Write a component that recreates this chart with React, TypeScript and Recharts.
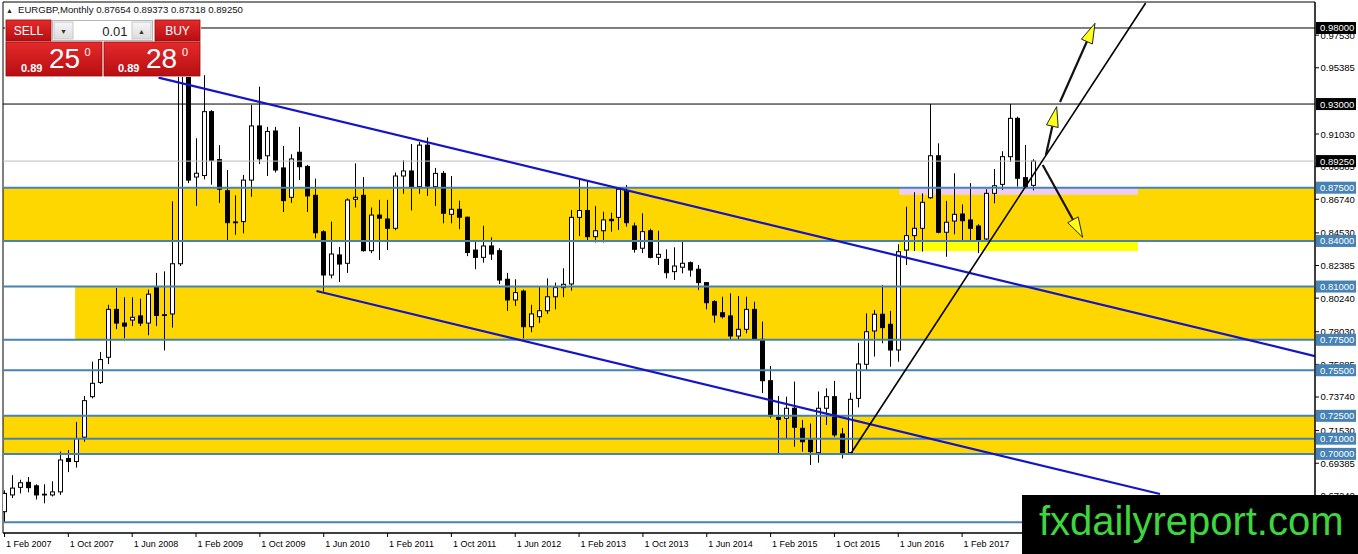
import React from 'react';
import { ComposedChart, Bar, XAxis, YAxis, ReferenceLine, ReferenceArea } from 'recharts';

const FONT = '"Liberation Sans", Arial, sans-serif';

// EURGBP monthly candles, Feb 2007 .. Nov 2017 (index 0 = Feb 2007)
const opens = [
  0.662, 0.673, 0.678, 0.6813, 0.679, 0.6735, 0.673, 0.675, 0.697, 0.695,
  0.711, 0.7376, 0.747, 0.7635, 0.795, 0.786, 0.788, 0.7907, 0.786, 0.81,
  0.791, 0.792, 0.825, 0.953, 0.882, 0.883, 0.925, 0.8935, 0.873, 0.852,
  0.8527, 0.88, 0.9156, 0.896, 0.9123, 0.888, 0.8687, 0.8983, 0.889, 0.87,
  0.846, 0.8176, 0.8308, 0.8253, 0.8674, 0.87, 0.8336, 0.857, 0.8544, 0.8483,
  0.8827, 0.886, 0.8757, 0.903, 0.8757, 0.8844, 0.8575, 0.8608, 0.8556, 0.834,
  0.8292, 0.8367, 0.8336, 0.8148, 0.8012, 0.807, 0.7836, 0.7902, 0.7941, 0.8033,
  0.8093, 0.8117, 0.8555, 0.86, 0.8428, 0.8467, 0.8542, 0.8555, 0.8731, 0.8498,
  0.8352, 0.8467, 0.8292, 0.8279, 0.8198, 0.8227, 0.8257, 0.8214, 0.8126, 0.8001,
  0.7928, 0.7907, 0.7775, 0.7819, 0.795, 0.7753, 0.7481, 0.724, 0.7234, 0.73,
  0.7168, 0.7091, 0.7008, 0.73, 0.7376, 0.7131, 0.7008, 0.7365, 0.7589, 0.7808,
  0.7918, 0.7852, 0.7683, 0.834, 0.8435, 0.8483, 0.8684, 0.896, 0.8457, 0.8531,
  0.8577, 0.8538, 0.8498, 0.8413, 0.8713, 0.8772, 0.8954, 0.9206, 0.8816, 0.87654,
];
const highs = [
  0.676, 0.686, 0.683, 0.6848, 0.68, 0.68, 0.682, 0.7015, 0.7025, 0.721,
  0.738, 0.7606, 0.767, 0.798, 0.809, 0.803, 0.803, 0.802, 0.808, 0.819,
  0.82, 0.866, 0.98, 0.955, 0.9075, 0.949, 0.926, 0.903, 0.8866, 0.87,
  0.8834, 0.9294, 0.9414, 0.915, 0.915, 0.9024, 0.897, 0.915, 0.89, 0.881,
  0.847, 0.8527, 0.836, 0.868, 0.891, 0.882, 0.862, 0.867, 0.867, 0.885,
  0.893, 0.9037, 0.905, 0.908, 0.888, 0.886, 0.8827, 0.8665, 0.856, 0.8395,
  0.85, 0.8424, 0.8352, 0.819, 0.8148, 0.808, 0.798, 0.81, 0.8154, 0.8126,
  0.822, 0.8603, 0.8805, 0.8796, 0.863, 0.8592, 0.8586, 0.8753, 0.8768, 0.852,
  0.8582, 0.848, 0.8467, 0.8345, 0.8358, 0.8395, 0.8265, 0.8242, 0.813, 0.801,
  0.8033, 0.8056, 0.8038, 0.8033, 0.8, 0.787, 0.7578, 0.7381, 0.7376, 0.7475,
  0.7223, 0.72, 0.741, 0.7431, 0.748, 0.717, 0.7402, 0.773, 0.7924, 0.7946,
  0.811, 0.794, 0.8378, 0.8625, 0.872, 0.8713, 0.93, 0.9042, 0.8663, 0.8845,
  0.864, 0.878, 0.851, 0.874, 0.8873, 0.899, 0.93, 0.9217, 0.9031, 0.89373,
];
const lows = [
  0.655, 0.671, 0.674, 0.6747, 0.67, 0.6675, 0.672, 0.673, 0.688, 0.691,
  0.708, 0.7365, 0.746, 0.759, 0.782, 0.776, 0.784, 0.784, 0.778, 0.784,
  0.768, 0.783, 0.8235, 0.878, 0.863, 0.8805, 0.877, 0.865, 0.8406, 0.844,
  0.845, 0.869, 0.8906, 0.8827, 0.885, 0.859, 0.865, 0.88, 0.859, 0.8417,
  0.8067, 0.8154, 0.813, 0.819, 0.862, 0.833, 0.832, 0.8275, 0.834, 0.847,
  0.871, 0.86, 0.871, 0.8696, 0.863, 0.8516, 0.8516, 0.8477, 0.83, 0.8214,
  0.8257, 0.8275, 0.8117, 0.794, 0.7972, 0.776, 0.78, 0.786, 0.792, 0.795,
  0.803, 0.8073, 0.8432, 0.8406, 0.839, 0.839, 0.8461, 0.8472, 0.8494, 0.8323,
  0.832, 0.8285, 0.8242, 0.8154, 0.8143, 0.8187, 0.8165, 0.8077, 0.795, 0.7863,
  0.789, 0.7753, 0.7753, 0.7793, 0.7749, 0.74, 0.7234, 0.7004, 0.7102, 0.7047,
  0.7015, 0.6927, 0.6942, 0.719, 0.711, 0.697, 0.7, 0.7306, 0.755, 0.764,
  0.7727, 0.7573, 0.7606, 0.8242, 0.8334, 0.833, 0.8676, 0.845, 0.8296, 0.8444,
  0.8406, 0.8406, 0.832, 0.84, 0.8647, 0.8735, 0.892, 0.8757, 0.875, 0.87318,
];
const closes = [
  0.674, 0.6775, 0.681, 0.6778, 0.673, 0.673, 0.675, 0.696, 0.695, 0.71,
  0.735, 0.7464, 0.762, 0.795, 0.786, 0.784, 0.7898, 0.786, 0.805, 0.791,
  0.7915, 0.825, 0.953, 0.88, 0.8845, 0.925, 0.893, 0.874, 0.852, 0.8525,
  0.88, 0.9156, 0.894, 0.912, 0.8866, 0.8665, 0.8939, 0.8888, 0.8696, 0.8454,
  0.8176, 0.8314, 0.8248, 0.8669, 0.8687, 0.8336, 0.857, 0.855, 0.8483, 0.8827,
  0.886, 0.8757, 0.903, 0.876, 0.8844, 0.8582, 0.8608, 0.8556, 0.8324, 0.8292,
  0.8367, 0.8314, 0.8143, 0.8012, 0.806, 0.7836, 0.792, 0.7941, 0.8033, 0.8093,
  0.8115, 0.8555, 0.86, 0.8428, 0.8467, 0.8538, 0.8533, 0.874, 0.852, 0.8345,
  0.8461, 0.8292, 0.8312, 0.8191, 0.8235, 0.8253, 0.8209, 0.8126, 0.7994, 0.7913,
  0.7902, 0.7775, 0.7819, 0.795, 0.7753, 0.7481, 0.7249, 0.7227, 0.73, 0.7175,
  0.708, 0.7015, 0.73, 0.7376, 0.7125, 0.7008, 0.7359, 0.7591, 0.7803, 0.7918,
  0.783, 0.7683, 0.8329, 0.8435, 0.8483, 0.8654, 0.896, 0.8457, 0.8523, 0.8575,
  0.8533, 0.8483, 0.8406, 0.8713, 0.8763, 0.8954, 0.9206, 0.8812, 0.8757, 0.8925,
];

const xTickIdx = [0, 8, 16, 24, 32, 40, 48, 56, 64, 72, 80, 88, 96, 104, 112, 120];
const xTickLabels = [
  '1 Feb 2007', '1 Oct 2007', '1 Jun 2008', '1 Feb 2009', '1 Oct 2009', '1 Jun 2010',
  '1 Feb 2011', '1 Oct 2011', '1 Jun 2012', '1 Feb 2013', '1 Oct 2013', '1 Jun 2014',
  '1 Feb 2015', '1 Oct 2015', '1 Jun 2016', '1 Feb 2017',
];

const priceTicks = [
  0.9753, 0.95385, 0.9103, 0.88885, 0.8674, 0.8453, 0.82385, 0.8024,
  0.7803, 0.75885, 0.7374, 0.7153, 0.69385, 0.6724,
];
const blackLevels = [0.98, 0.93];
const bidLevel = 0.8925;
const blueLevels = [0.875, 0.84, 0.81, 0.775, 0.755, 0.725, 0.71, 0.7];
const extraBlueLevels = [0.655];

const symbol = 'EURGBP';
const timeframe = 'Monthly';
const sellPrice = ['0.89', '25', '0'];
const buyPrice = ['0.89', '28', '0'];
const lotSize = '0.01';
const watermark = 'fxdailyreport.com';

const X_MIN = -0.188;
const X_MAX = 164.22;
const Y_MIN = 0.64798;
const Y_MAX = 0.99709;

const goldZones = [
  { x1: X_MIN, x2: X_MAX, y1: 0.84, y2: 0.875 },
  { x1: 8.85, x2: X_MAX, y1: 0.775, y2: 0.81 },
  { x1: X_MIN, x2: X_MAX, y1: 0.7, y2: 0.725 },
];
const lavenderZone = { x1: 112.13, x2: 142.04, y1: 0.8703, y2: 0.875 };
const yellowZone = { x1: 112.13, x2: 142.04, y1: 0.8334, y2: 0.84 };

const channelLines = [
  [{ x: 19.3, y: 0.9474 }, { x: 164.22, y: 0.7643 }],
  [{ x: 39.1, y: 0.8071 }, { x: 144.8, y: 0.6736 }],
];
const trendLine = [{ x: 106.1, y: 0.7006 }, { x: 143.0, y: 0.9964 }];
const arrows = [
  [{ x: 130.5, y: 0.8965 }, { x: 131.85, y: 0.9283 }],
  [{ x: 132.27, y: 0.9313 }, { x: 136.65, y: 0.9831 }],
  [{ x: 130.1, y: 0.8899 }, { x: 135.1, y: 0.8424 }],
];

const data = opens.map((o, i) => ({
  i,
  o,
  h: highs[i],
  l: lows[i],
  c: closes[i],
  range: [lows[i], highs[i]],
}));

const Candle = (props: any) => {
  const { x, y, width, height, payload } = props;
  if (x == null || y == null || !payload) return null;
  const { o, h, l, c } = payload;
  const top0 = Math.min(y, y + height);
  const hgt = Math.abs(height);
  const ppu = h - l > 0 ? hgt / (h - l) : 0;
  const cx = Math.round(x + width / 2) + 0.5;
  const bTop = top0 + (h - Math.max(o, c)) * ppu;
  const bBot = top0 + (h - Math.min(o, c)) * ppu;
  const bull = c >= o;
  return (
    <g>
      <line x1={cx} x2={cx} y1={top0} y2={top0 + hgt} stroke="#000" strokeWidth={1} />
      <rect
        x={cx - 2}
        y={bTop}
        width={4}
        height={Math.max(bBot - bTop, 0.8)}
        fill={bull ? '#fff' : '#000'}
        stroke="#000"
        strokeWidth={1}
      />
    </g>
  );
};

const ArrowShape = (p: any) => {
  const { x1, y1, x2, y2 } = p;
  if ([x1, y1, x2, y2].some((v) => v == null || Number.isNaN(v))) return null;
  const dx = x2 - x1;
  const dy = y2 - y1;
  const len = Math.hypot(dx, dy) || 1;
  const ux = dx / len;
  const uy = dy / len;
  const hl = 20;
  const hw = 6;
  const bx = x2 - ux * hl;
  const by = y2 - uy * hl;
  const px = -uy;
  const py = ux;
  const pts = `${x2},${y2} ${bx + px * hw},${by + py * hw} ${bx - px * hw},${by - py * hw}`;
  return (
    <g>
      <line x1={x1} y1={y1} x2={bx} y2={by} stroke="#111" strokeWidth={2.2} />
      <polygon points={pts} fill="#FFFF1A" stroke="#222" strokeWidth={1} />
    </g>
  );
};

const YTick = (p: any) => {
  const { x, y, payload } = p;
  const v = payload.value;
  const label = Number(v).toFixed(5);
  const isBlack = blackLevels.includes(v) || v === bidLevel;
  const isBlue = blueLevels.includes(v);
  if (isBlack || isBlue) {
    return (
      <g>
        <rect x={x + 1} y={y - 6} width={40} height={12} fill={isBlack ? '#000' : '#4682B4'} />
        <text x={x + 5} y={y + 3.5} fill="#fff" fontSize={9.5} fontFamily={FONT}>
          {label}
        </text>
      </g>
    );
  }
  return (
    <g>
      <line x1={x} x2={x + 4} y1={y} y2={y} stroke="#000" />
      <text x={x + 5.5} y={y + 3.5} fill="#000" fontSize={9.5} fontFamily={FONT}>
        {label}
      </text>
    </g>
  );
};

const XTick = (p: any) => {
  const { x, y, payload } = p;
  const k = xTickIdx.indexOf(payload.value);
  return (
    <g>
      <line x1={x} x2={x} y1={y} y2={y + 4} stroke="#000" />
      <text x={x + 1.5} y={y + 13.5} fill="#000" fontSize={9} fontFamily={FONT}>
        {k >= 0 ? xTickLabels[k] : ''}
      </text>
    </g>
  );
};

const last = data[data.length - 1];

const Overlay = () => (
  <svg
    width={1358}
    height={554}
    style={{ position: 'absolute', left: 0, top: 0, pointerEvents: 'none' }}
  >
    <defs>
      <linearGradient id="redg" x1="0" y1="0" x2="0" y2="1">
        <stop offset="0" stopColor="#E42A2A" />
        <stop offset="1" stopColor="#B70E12" />
      </linearGradient>
      <linearGradient id="grayg" x1="0" y1="0" x2="0" y2="1">
        <stop offset="0" stopColor="#F6F6F6" />
        <stop offset="1" stopColor="#DCDCDC" />
      </linearGradient>
    </defs>
    {/* header */}
    <text x={6} y={13} fontSize={7} fontFamily={FONT} fill="#222">▲</text>
    <text x={18} y={13} fontSize={9.6} fontFamily={FONT} fill="#111">
      {`${symbol},${timeframe}  ${last.o.toFixed(5)} ${last.h.toFixed(5)} ${last.l.toFixed(5)} ${last.c.toFixed(5)}`}
    </text>
    {/* one click trading panel */}
    <rect x={5} y={19} width={196} height={58} fill="#fff" />
    <rect x={6} y={20} width={45} height={21} fill="url(#redg)" stroke="#9B0A0A" strokeWidth={0.8} />
    <text x={28.5} y={35} textAnchor="middle" fontSize={12} fontFamily={FONT} fill="#fff">SELL</text>
    <rect x={52.5} y={20.5} width={100} height={20} fill="#fff" stroke="#B8B8B8" />
    <rect x={54} y={22} width={19} height={17} fill="url(#grayg)" stroke="#C8C8C8" />
    <text x={63.5} y={33.5} textAnchor="middle" fontSize={7} fontFamily={FONT} fill="#333">▼</text>
    <text x={127.5} y={35.5} textAnchor="end" fontSize={13} fontFamily={FONT} fill="#222">{lotSize}</text>
    <rect x={132} y={22} width={19} height={17} fill="url(#grayg)" stroke="#C8C8C8" />
    <text x={141.5} y={33.5} textAnchor="middle" fontSize={7} fontFamily={FONT} fill="#333">▲</text>
    <rect x={155} y={20} width={45} height={21} fill="url(#redg)" stroke="#9B0A0A" strokeWidth={0.8} />
    <text x={177.5} y={35} textAnchor="middle" fontSize={12} fontFamily={FONT} fill="#fff">BUY</text>
    <rect x={6} y={42} width={96} height={34} fill="url(#redg)" stroke="#9B0A0A" strokeWidth={0.8} />
    <text x={21} y={72} fontSize={11} fontWeight="bold" fontFamily={FONT} fill="#fff">{sellPrice[0]}</text>
    <text x={49} y={67.5} fontSize={28} fontFamily={FONT} fill="#fff">{sellPrice[1]}</text>
    <text x={84.5} y={56} fontSize={11} fontFamily={FONT} fill="#fff">{sellPrice[2]}</text>
    <rect x={104} y={42} width={96} height={34} fill="url(#redg)" stroke="#9B0A0A" strokeWidth={0.8} />
    <text x={118} y={72} fontSize={11} fontWeight="bold" fontFamily={FONT} fill="#fff">{buyPrice[0]}</text>
    <text x={146} y={67.5} fontSize={28} fontFamily={FONT} fill="#fff">{buyPrice[1]}</text>
    <text x={182} y={56} fontSize={11} fontFamily={FONT} fill="#fff">{buyPrice[2]}</text>
    {/* watermark */}
    <rect x={1022} y={495} width={336} height={59} fill="#000" />
    <text x={1039} y={535} fontSize={40} fontFamily={FONT} fill="#3ED63E">{watermark}</text>
  </svg>
);

export default function App() {
  return (
    <div
      style={{
        position: 'absolute',
        left: 0,
        top: 0,
        width: 1358,
        height: 554,
        background: '#fff',
        overflow: 'hidden',
      }}
    >
      <ComposedChart
        width={1358}
        height={554}
        data={data}
        margin={{ top: 2, right: 0, bottom: 0, left: 3 }}
      >
        <XAxis
          dataKey="i"
          type="number"
          domain={[X_MIN, X_MAX]}
          allowDataOverflow
          ticks={xTickIdx}
          interval={0}
          height={21}
          tickSize={0}
          tickMargin={0}
          tickLine={false}
          axisLine={{ stroke: '#000' }}
          tick={(p: any) => <XTick {...p} />}
        />
        <YAxis
          orientation="right"
          type="number"
          domain={[Y_MIN, Y_MAX]}
          allowDataOverflow
          ticks={[...priceTicks, bidLevel, ...blackLevels, ...blueLevels]}
          interval={0}
          width={43}
          tickSize={0}
          tickMargin={0}
          tickLine={false}
          axisLine={{ stroke: '#000' }}
          tick={(p: any) => <YTick {...p} />}
        />
        {goldZones.map((z, k) => (
          <ReferenceArea
            key={`gz${k}`}
            x1={z.x1}
            x2={z.x2}
            y1={z.y1}
            y2={z.y2}
            fill="#FFD700"
            fillOpacity={1}
            stroke="none"
            ifOverflow="hidden"
          />
        ))}
        <ReferenceArea
          x1={lavenderZone.x1}
          x2={lavenderZone.x2}
          y1={lavenderZone.y1}
          y2={lavenderZone.y2}
          fill="#EFCDF3"
          fillOpacity={1}
          stroke="none"
          ifOverflow="hidden"
        />
        <ReferenceArea
          x1={yellowZone.x1}
          x2={yellowZone.x2}
          y1={yellowZone.y1}
          y2={yellowZone.y2}
          fill="#FFFF00"
          fillOpacity={1}
          stroke="none"
          ifOverflow="hidden"
        />
        {blackLevels.map((v) => (
          <ReferenceLine key={`bl${v}`} y={v} stroke="#000" strokeWidth={1} />
        ))}
        <ReferenceLine y={bidLevel} stroke="#BDBDBD" strokeWidth={1} />
        {[...blueLevels, ...extraBlueLevels].map((v) => (
          <ReferenceLine key={`bu${v}`} y={v} stroke="#4682B4" strokeWidth={2} />
        ))}
        <Bar
          dataKey="range"
          barSize={5}
          isAnimationActive={false}
          shape={(p: any) => <Candle {...p} />}
        />
        {channelLines.map((seg, k) => (
          <ReferenceLine
            key={`ch${k}`}
            segment={seg}
            stroke="#1414C8"
            strokeWidth={2.2}
            ifOverflow="hidden"
          />
        ))}
        <ReferenceLine segment={trendLine} stroke="#000" strokeWidth={1.6} ifOverflow="hidden" />
        {arrows.map((seg, k) => (
          <ReferenceLine key={`ar${k}`} segment={seg} ifOverflow="visible" shape={ArrowShape} />
        ))}
        <ReferenceArea
          x1={X_MIN}
          x2={X_MAX}
          y1={Y_MIN}
          y2={Y_MAX}
          fill="none"
          stroke="#000"
          strokeWidth={1}
          ifOverflow="visible"
        />
      </ComposedChart>
      <Overlay />
    </div>
  );
}
